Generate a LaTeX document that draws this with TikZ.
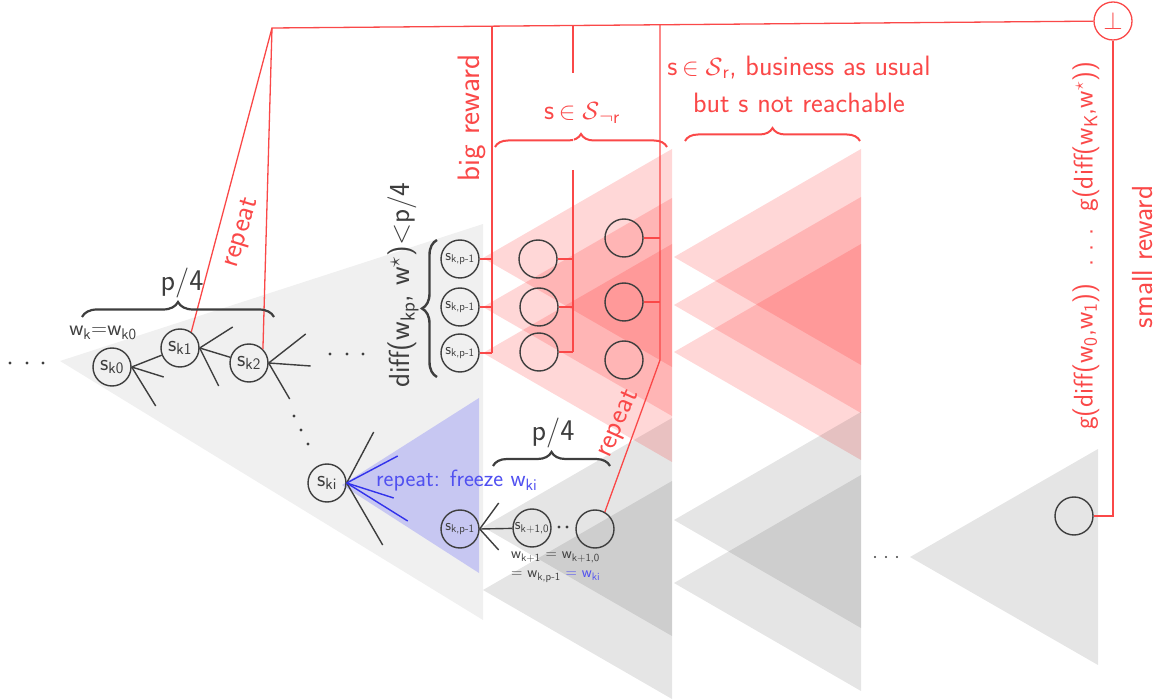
\documentclass[tikz,border=0pt]{standalone}
\usepackage{fontspec}
\usetikzlibrary{decorations.pathreplacing}
\definecolor{ink}{RGB}{62,62,62}
\definecolor{rc}{RGB}{250,72,72}
\definecolor{bc}{RGB}{50,50,235}
\definecolor{bt}{RGB}{80,80,240}
\begin{document}
\begin{tikzpicture}[x=1pt,y=-1pt,
  st/.style={circle,draw=ink,line width=1.4pt,minimum size=38pt,inner sep=0pt,text=ink,font=\sffamily\fontsize{23}{26}\selectfont},
  sts/.style={st,font=\sffamily\fontsize{16}{18}\selectfont},
  rl/.style={draw=rc,line width=1.3pt},
  tl/.style={draw=ink,line width=1.4pt},
  bl/.style={draw=bc,line width=1.4pt},
  gtri/.style={fill=black,fill opacity=0.1},
  rtri/.style={fill=red,fill opacity=0.155},
  lab/.style={font=\sffamily\fontsize{29}{34}\selectfont,inner sep=0pt,text=ink},
  rlab/.style={lab,text=rc},
  brc/.style={decorate,decoration={brace,amplitude=#1}},
]
\useasboundingbox (0,0) rectangle (1157,700);

% ---- background triangles
\fill[black!6] (60,361) -- (483,224) -- (483,620) -- cycle;
\foreach \y in {527,590} \fill[gtri] (483,\y) -- (672,\y-109) -- (672,\y+109) -- cycle;
\foreach \y in {258,307,353} \fill[rtri] (483,\y) -- (672,\y-109) -- (672,\y+109) -- cycle;
\foreach \y in {257,305,352} \fill[rtri] (674,\y) -- (861,\y-108) -- (861,\y+108) -- cycle;
\foreach \y in {520,583} \fill[gtri] (674,\y) -- (861,\y-108) -- (861,\y+108) -- cycle;
\fill[gtri] (910,557) -- (1098,449) -- (1098,665) -- cycle;
\fill[blue,fill opacity=0.17] (342,485) -- (479,398) -- (479,573) -- cycle;

% ---- state nodes
\node[st] (sk0) at (112,367) {s\textsubscript{k0}};
\node[st] (sk1) at (180,348) {s\textsubscript{k1}};
\node[st] (sk2) at (249,363) {s\textsubscript{k2}};
\node[st] (ski) at (327,483) {s\textsubscript{ki}};
\node[sts] (a1) at (460,259) {s\textsubscript{k,p-1}};
\node[sts] (a2) at (460,307) {s\textsubscript{k,p-1}};
\node[sts] (a3) at (460,353) {s\textsubscript{k,p-1}};
\node[sts] (p) at (460,529) {s\textsubscript{k,p-1}};
\node[sts] (q) at (532,528) {s\textsubscript{k+1,0}};
\node[st] (e) at (595,529) {};
\node[st] (b1) at (538,259) {};
\node[st] (b2) at (539,307) {};
\node[st] (b3) at (539,352) {};
\node[st] (c1) at (624,238) {};
\node[st] (c2) at (624,302) {};
\node[st] (c3) at (624,360) {};
\node[st] (f) at (1074,516) {};
\node[st,draw=rc,text=rc,line width=1.3pt,font=\fontsize{30}{32}\selectfont] (bot) at (1113,21) {$\perp$};

% ---- tree edges
\draw[tl] (sk0.east) -- (sk1);
\draw[tl] (sk0.east) -- ++(32,10) coordinate (x01);
\draw[tl] (sk0.east) -- ++(24,39) coordinate (x02);
\draw[tl] (sk1.east) -- (sk2);
\draw[tl] (sk1.east) -- ++(33,-21) coordinate (x11);
\draw[tl] (sk1.east) -- ++(19,38) coordinate (x12);
\draw[tl] (sk2.east) -- ++(37,-29) coordinate (x21);
\draw[tl] (sk2.east) -- ++(42,3) coordinate (x22);
\draw[tl] (sk2.east) -- ++(21,36) coordinate (x23);
\draw[tl] (ski.east) -- ++(27,-51) coordinate (xi1);
\draw[tl] (ski.east) -- ++(36,62) coordinate (xi2);
\draw[bl] (ski.east) -- ++(51,-27) coordinate (yi1);
\draw[bl] (ski.east) -- ++(47,15) coordinate (yi2);
\draw[bl] (ski.east) -- ++(61,38) coordinate (yi3);
\draw[tl] (p.east) -- (q);
\draw[tl] (p.east) -- ++(19,-26) coordinate (xp1);
\draw[tl] (p.east) -- ++(19,21) coordinate (xp2);

% ---- dots
\foreach \x/\y in {10/363,27/363,43/363,330/354,347/354,363/354,294/416,301/430,308/444,559/527,567/527}
  \fill[ink] (\x,\y) circle (1.7);
\foreach \x in {875,886,897} \fill[ink] (\x,557) circle (1.1);

% ---- red connectors
\coordinate (t0) at (272,28);
\coordinate (v1) at (492,26.1);
\coordinate (v2) at (573,25.4);
\coordinate (v2m) at (573,73);
\coordinate (v2n) at (573,170);
\coordinate (v3) at (660,24.7);
\draw[rl] (sk1.55) -- (t0) -- (bot);
\draw[rl] (t0) -- (sk2.45);
\draw[rl] (v1) -- (a3.east -| v1);
\foreach \n in {a1,a2,a3} \draw[rl] (\n.east) -- (\n.east -| v1);
\draw[rl] (v2) -- (v2m);
\draw[rl] (v2n) -- (b3.east -| v2);
\foreach \n in {b1,b2,b3} \draw[rl] (\n.east) -- (\n.east -| v2);
\draw[rl] (v3) -- (c3.east -| v3) -- (e.60);
\foreach \n in {c1,c2} \draw[rl] (\n.east) -- (\n.east -| v3);
\draw[rl] (f.east) -| (bot.south);

% ---- braces
\draw[ink,line width=2.2pt,brc=15pt] (82,317) -- (274,317);
\draw[ink,line width=2.4pt,brc=15pt] (437,377) -- (437,240);
\draw[ink,line width=2.2pt,brc=14pt] (493,466) -- (610,466);
\draw[rc,line width=2pt,brc=13pt] (495,147) -- (667,147);
\draw[rc,line width=2pt,brc=13pt] (685,141) -- (860,141);
\draw[white,opacity=0.8,line width=1pt] (v2m) -- (v2n);

% ---- labels
\node[lab,font=\sffamily\fontsize{30}{34}\selectfont] (l1) at (182,283) {p/4};
\node[lab,font=\sffamily\fontsize{22}{26}\selectfont] (l2) at (103,333) {w\textsubscript{k}=w\textsubscript{k0}};
\node[rlab,rotate=73] (l3) at (242,233) {repeat};
\node[lab,rotate=90] (l4) at (403,285) {diff(w\textsubscript{kp}, w\textsuperscript{$\star$})<p/4};
\node[rlab,rotate=90,font=\sffamily\fontsize{31}{34}\selectfont] (l5) at (472,118) {big reward};
\node[rlab,font=\sffamily\fontsize{28}{34}\selectfont] (l6) at (582,113) {s\,$\in\mathcal{S}$\textsubscript{$\neg$r}};
\node[rlab,align=center,font=\sffamily\fontsize{28}{37}\selectfont] (l7) at (799,84) {s\,$\in\mathcal{S}$\textsubscript{r}, business as usual\\but s not reachable};
\node[rlab,rotate=90,font=\sffamily\fontsize{27}{32}\selectfont] (l8) at (1086,246) {g(diff(w\textsubscript{0},w\textsubscript{1}))\ \ .\ .\ .\ \ g(diff(w\textsubscript{K},w\textsuperscript{$\star$}))};
\node[rlab,rotate=90] (l9) at (1143,257) {small reward};
\node[lab,text=bt,anchor=west,font=\sffamily\fontsize{23.5}{27}\selectfont] (l10) at (376,481) {repeat: freeze w\textsubscript{ki}};
\node[lab,font=\sffamily\fontsize{30}{34}\selectfont] (l11) at (553,433) {p/4};
\node[rlab,rotate=66] (l12) at (619,424) {repeat};
\node[lab,anchor=north west,align=left,font=\sffamily\fontsize{15.5}{19}\selectfont] (l13) at (511,552) {w\textsubscript{k+1} = w\textsubscript{k+1,0}\\= w\textsubscript{k,p-1} \textcolor{bt}{= w\textsubscript{ki}}};
\end{tikzpicture}
\end{document}
